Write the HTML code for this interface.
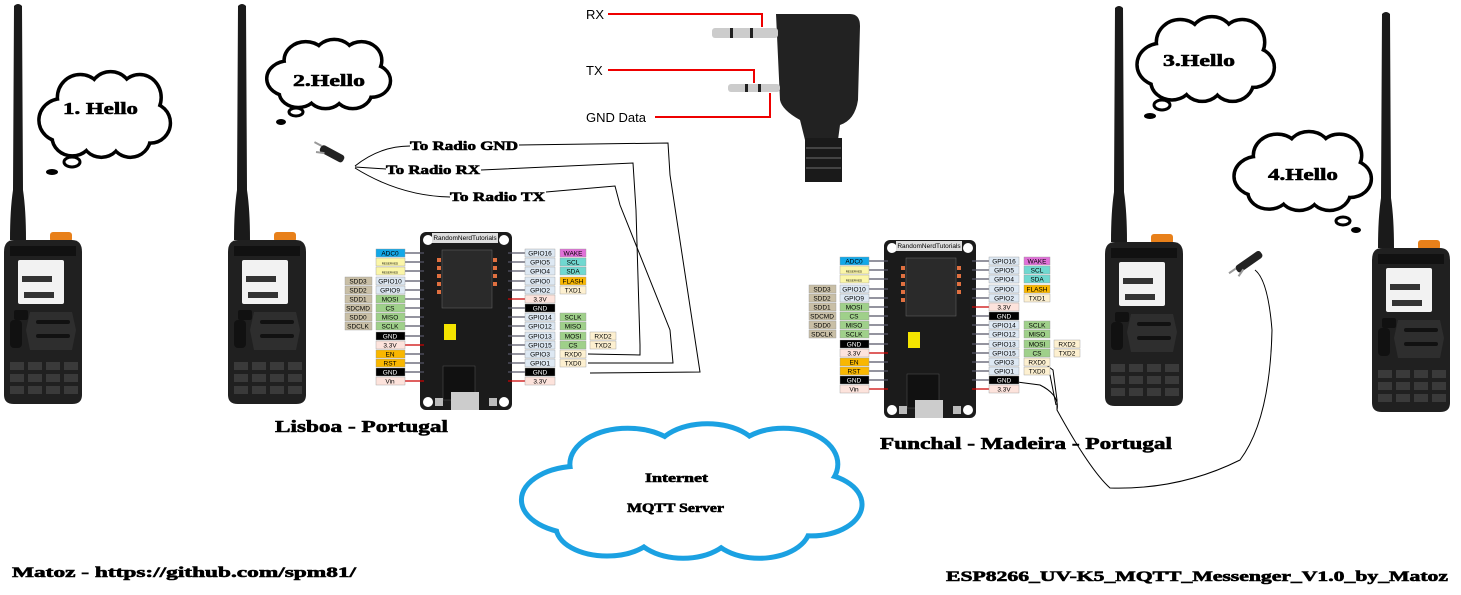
<!DOCTYPE html>
<html><head><meta charset="utf-8"><style>
html,body{margin:0;padding:0;background:#fff;width:1461px;height:595px;overflow:hidden}
svg{display:block}
.t{font-family:"Liberation Serif",serif;font-weight:bold;fill:#000;stroke:#000;stroke-width:0.6}
.p{font-family:"Liberation Sans",sans-serif;font-size:6.5px;text-anchor:middle}
</style></head><body>
<svg width="1461" height="595" viewBox="0 0 1461 595" xmlns="http://www.w3.org/2000/svg">
<defs>
<symbol id="radio" viewBox="0 0 90 410" width="90" height="410" overflow="visible">
  <path d="M12,6 Q16,2 20,6 L21,190 Q24,210 24,240 L8,240 Q8,210 11,190 Z" fill="#1a1a1a"/>
  <rect x="48" y="232" width="22" height="10" rx="3" fill="#e8801a"/>
  <path d="M2,252 Q2,240 12,240 L70,240 Q80,240 80,252 L80,395 Q80,404 70,404 L12,404 Q2,404 2,395 Z" fill="#202020"/>
  <rect x="8" y="246" width="66" height="10" fill="#111"/>
  <rect x="16" y="260" width="46" height="44" rx="2" fill="#f2f2f2"/>
  <rect x="20" y="276" width="30" height="6" fill="#333"/>
  <rect x="22" y="292" width="30" height="6" fill="#333"/>
  <rect x="12" y="310" width="14" height="10" rx="2" fill="#111"/>
  <path d="M28,312 L70,312 L74,330 L70,350 L28,350 L24,330 Z" fill="#2e2e2e"/>
  <rect x="34" y="320" width="34" height="4" rx="2" fill="#111"/>
  <rect x="34" y="334" width="34" height="4" rx="2" fill="#111"/>
  <rect x="8" y="320" width="12" height="28" rx="4" fill="#111"/>
  <g fill="#3a3a3a"><rect x="8" y="362" width="14" height="8"/><rect x="26" y="362" width="14" height="8"/><rect x="44" y="362" width="14" height="8"/><rect x="62" y="362" width="14" height="8"/>
  <rect x="8" y="374" width="14" height="8"/><rect x="26" y="374" width="14" height="8"/><rect x="44" y="374" width="14" height="8"/><rect x="62" y="374" width="14" height="8"/>
  <rect x="8" y="386" width="14" height="8"/><rect x="26" y="386" width="14" height="8"/><rect x="44" y="386" width="14" height="8"/><rect x="62" y="386" width="14" height="8"/></g>
</symbol>
<symbol id="cloud" viewBox="0 0 100 60" preserveAspectRatio="none" overflow="visible">
  <g fill="currentColor" stroke="currentColor">
    <ellipse cx="18" cy="34" rx="16" ry="14" vector-effect="non-scaling-stroke"/><ellipse cx="32" cy="18" rx="16" ry="15" vector-effect="non-scaling-stroke"/><ellipse cx="55" cy="15" rx="15" ry="14" vector-effect="non-scaling-stroke"/><ellipse cx="77" cy="18" rx="15" ry="15" vector-effect="non-scaling-stroke"/><ellipse cx="85" cy="36" rx="14" ry="13" vector-effect="non-scaling-stroke"/><ellipse cx="70" cy="46" rx="14" ry="13" vector-effect="non-scaling-stroke"/><ellipse cx="48" cy="46" rx="14" ry="13" vector-effect="non-scaling-stroke"/><ellipse cx="26" cy="46" rx="14" ry="12" vector-effect="non-scaling-stroke"/>
  </g>
  <g fill="#fff" stroke="none">
    <ellipse cx="18" cy="34" rx="16" ry="14"/><ellipse cx="32" cy="18" rx="16" ry="15"/><ellipse cx="55" cy="15" rx="15" ry="14"/><ellipse cx="77" cy="18" rx="15" ry="15"/><ellipse cx="85" cy="36" rx="14" ry="13"/><ellipse cx="70" cy="46" rx="14" ry="13"/><ellipse cx="48" cy="46" rx="14" ry="13"/><ellipse cx="26" cy="46" rx="14" ry="12"/><ellipse cx="50" cy="30" rx="30" ry="18"/>
  </g>
</symbol>
</defs>

<use href="#radio" x="2" y="0"/>
<use href="#radio" x="226" y="0"/>
<use href="#radio" x="1103" y="2"/>
<use href="#radio" x="1370" y="8"/>

<use href="#cloud" x="38" y="72" width="132" height="85" style="color:#000" stroke-width="7"/>
<ellipse cx="72" cy="162" rx="8" ry="5" fill="#fff" stroke="#000" stroke-width="3"/>
<ellipse cx="52" cy="172" rx="6" ry="3" fill="#000"/>
<text class="t" x="63" y="114" font-size="17" textLength="75" lengthAdjust="spacingAndGlyphs">1. Hello</text>

<use href="#cloud" x="266" y="40" width="124" height="68" style="color:#000" stroke-width="7"/>
<ellipse cx="296" cy="112" rx="7" ry="4" fill="#fff" stroke="#000" stroke-width="3"/>
<ellipse cx="281" cy="122" rx="5" ry="3" fill="#000"/>
<text class="t" x="293" y="86" font-size="17" textLength="72" lengthAdjust="spacingAndGlyphs">2.Hello</text>

<use href="#cloud" x="1136" y="17" width="138" height="84" style="color:#000" stroke-width="7"/>
<ellipse cx="1162" cy="105" rx="8" ry="5" fill="#fff" stroke="#000" stroke-width="3"/>
<ellipse cx="1150" cy="116" rx="6" ry="3" fill="#000"/>
<text class="t" x="1163" y="66" font-size="17" textLength="72" lengthAdjust="spacingAndGlyphs">3.Hello</text>

<use href="#cloud" x="1233" y="132" width="138" height="78" style="color:#000" stroke-width="7"/>
<ellipse cx="1343" cy="221" rx="7" ry="4" fill="#fff" stroke="#000" stroke-width="3"/>
<ellipse cx="1356" cy="230" rx="5" ry="3" fill="#000"/>
<text class="t" x="1268" y="180" font-size="17" textLength="70" lengthAdjust="spacingAndGlyphs">4.Hello</text>

<use href="#cloud" x="517" y="424" width="346" height="134" style="color:#1ba1e2" stroke-width="10"/>
<text class="t" x="645" y="482" font-size="13" textLength="63" lengthAdjust="spacingAndGlyphs">Internet</text>
<text class="t" x="627" y="512" font-size="13" textLength="97" lengthAdjust="spacingAndGlyphs">MQTT Server</text>

<g>
  <path d="M776,14 L850,14 Q860,14 860,26 L858,100 Q855,120 840,125 L838,140 L805,140 L800,120 Q782,110 780,100 Z" fill="#222"/>
  <rect x="805" y="138" width="37" height="44" fill="#1a1a1a"/>
  <g stroke="#444" stroke-width="2"><line x1="806" y1="148" x2="841" y2="148"/><line x1="806" y1="158" x2="841" y2="158"/><line x1="806" y1="168" x2="841" y2="168"/></g>
  <rect x="712" y="28" width="66" height="10" rx="3" fill="#ccc"/>
  <rect x="730" y="28" width="3" height="10" fill="#222"/><rect x="750" y="28" width="3" height="10" fill="#222"/>
  <rect x="728" y="84" width="52" height="8" rx="3" fill="#ccc"/>
  <rect x="745" y="84" width="3" height="8" fill="#222"/><rect x="758" y="84" width="3" height="8" fill="#222"/>
  <polyline points="608,14 762,14 762,27" fill="none" stroke="#e00" stroke-width="2"/>
  <polyline points="608,70 754,70 754,83" fill="none" stroke="#e00" stroke-width="2"/>
  <polyline points="655,117 770,117 770,93" fill="none" stroke="#e00" stroke-width="2"/>
  <text x="586" y="19" font-family="Liberation Sans,sans-serif" font-size="13">RX</text>
  <text x="586" y="75" font-family="Liberation Sans,sans-serif" font-size="13">TX</text>
  <text x="586" y="122" font-family="Liberation Sans,sans-serif" font-size="13">GND Data</text>
</g>

<g transform="translate(340,158) rotate(28)"><rect x="-22" y="-4" width="26" height="8" rx="3" fill="#222"/><line x1="-22" y1="-2" x2="-30" y2="-2" stroke="#999" stroke-width="2"/><line x1="-16" y1="3" x2="-24" y2="6" stroke="#999" stroke-width="2"/></g>
<g transform="translate(1240,268) rotate(-35)"><rect x="-4" y="-4" width="30" height="8" rx="3" fill="#222"/><line x1="-4" y1="-2" x2="-12" y2="-2" stroke="#999" stroke-width="2"/><line x1="2" y1="3" x2="-6" y2="6" stroke="#999" stroke-width="2"/></g>

<g fill="none" stroke="#000" stroke-width="1">
  <path d="M355,166 Q380,146 410,146"/>
  <path d="M355,167 L386,169"/>
  <path d="M355,168 Q400,196 450,197"/>
  <path d="M519,145 L668,143 L670,175 L700,372 L590,373"/>
  <path d="M481,170 L633,163 L636,210 L640,345 L640,355 L588,354"/>
  <path d="M546,192 L615,186 L620,205 L670,330 L673,363 L588,363"/>
</g>
<text class="t" x="410" y="150" font-size="13" textLength="108" lengthAdjust="spacingAndGlyphs">To Radio  GND</text>
<text class="t" x="386" y="174" font-size="13" textLength="94" lengthAdjust="spacingAndGlyphs">To Radio RX</text>
<text class="t" x="450" y="201" font-size="13" textLength="95" lengthAdjust="spacingAndGlyphs">To Radio TX</text>

<g fill="none" stroke="#000" stroke-width="1">
  <path d="M1017,382 L1040,385 Q1060,395 1057,410 Q1090,470 1110,488 Q1180,490 1240,460 Q1270,420 1272,330 Q1268,280 1255,270"/>
  <path d="M1045,364 L1053,370 L1057,400 L1057,410"/>
  <path d="M1045,372 L1050,375 L1056,405"/>
</g>

<g id="b1">
  <rect x="420" y="232" width="92" height="178" rx="6" fill="#1b1b1b"/>
  <circle cx="428" cy="240" r="5" fill="#fff"/><circle cx="504" cy="240" r="5" fill="#fff"/>
  <circle cx="428" cy="402" r="5" fill="#fff"/><circle cx="504" cy="402" r="5" fill="#fff"/>
  <rect x="432" y="233" width="66" height="10" fill="#ddd"/>
  <text class="p" x="465" y="240">RandomNerdTutorials</text>
  <rect x="442" y="250" width="50" height="58" fill="#2a2a2a" stroke="#666" stroke-width="0.5"/>
  <g fill="#e07040"><rect x="437" y="258" width="4" height="4"/><rect x="437" y="266" width="4" height="4"/><rect x="437" y="274" width="4" height="4"/><rect x="437" y="282" width="4" height="4"/><rect x="437" y="290" width="4" height="4"/><rect x="493" y="258" width="4" height="4"/><rect x="493" y="266" width="4" height="4"/><rect x="493" y="274" width="4" height="4"/><rect x="493" y="282" width="4" height="4"/></g>
  <rect x="444" y="324" width="12" height="16" fill="#f5e400"/>
  <rect x="443" y="366" width="32" height="34" fill="#111" stroke="#555" stroke-width="0.5"/>
  <rect x="451" y="392" width="28" height="18" fill="#ccc"/>
  <rect x="435" y="398" width="8" height="8" fill="#bbb"/><rect x="489" y="398" width="8" height="8" fill="#bbb"/>
  <g stroke="#556" stroke-width="1.2">
    <line x1="405" y1="253" x2="424" y2="253"/><line x1="405" y1="262" x2="424" y2="262"/><line x1="405" y1="271" x2="424" y2="271"/><line x1="405" y1="281" x2="424" y2="281"/><line x1="405" y1="290" x2="424" y2="290"/><line x1="405" y1="299" x2="424" y2="299"/><line x1="405" y1="308" x2="424" y2="308"/><line x1="405" y1="317" x2="424" y2="317"/><line x1="405" y1="326" x2="424" y2="326"/><line x1="405" y1="336" x2="424" y2="336"/><line x1="405" y1="354" x2="424" y2="354"/><line x1="405" y1="363" x2="424" y2="363"/><line x1="405" y1="372" x2="424" y2="372"/>
    <line x1="508" y1="253" x2="525" y2="253"/><line x1="508" y1="262" x2="525" y2="262"/><line x1="508" y1="271" x2="525" y2="271"/><line x1="508" y1="281" x2="525" y2="281"/><line x1="508" y1="290" x2="525" y2="290"/><line x1="508" y1="308" x2="525" y2="308"/><line x1="508" y1="317" x2="525" y2="317"/><line x1="508" y1="326" x2="525" y2="326"/><line x1="508" y1="336" x2="525" y2="336"/><line x1="508" y1="345" x2="525" y2="345"/><line x1="508" y1="354" x2="525" y2="354"/><line x1="508" y1="363" x2="525" y2="363"/><line x1="508" y1="372" x2="525" y2="372"/>
  </g>
  <g stroke="#c00" stroke-width="1.2"><line x1="405" y1="345" x2="424" y2="345"/><line x1="405" y1="381" x2="424" y2="381"/><line x1="508" y1="299" x2="525" y2="299"/><line x1="508" y1="381" x2="525" y2="381"/></g>
  <g stroke="#999" stroke-width="0.4">
  <rect x="376" y="249" width="29" height="8" fill="#12a8e8"/>
  <rect x="376" y="258" width="29" height="8" fill="#fbf6a8"/>
  <rect x="376" y="267" width="29" height="8" fill="#fbf6a8"/>
  <rect x="345" y="277" width="27" height="8" fill="#c9bfa6"/><rect x="376" y="277" width="29" height="8" fill="#dde8f3"/>
  <rect x="345" y="286" width="27" height="8" fill="#c9bfa6"/><rect x="376" y="286" width="29" height="8" fill="#dde8f3"/>
  <rect x="345" y="295" width="27" height="8" fill="#c9bfa6"/><rect x="376" y="295" width="29" height="8" fill="#9fd08a"/>
  <rect x="345" y="304" width="27" height="8" fill="#c9bfa6"/><rect x="376" y="304" width="29" height="8" fill="#9fd08a"/>
  <rect x="345" y="313" width="27" height="8" fill="#c9bfa6"/><rect x="376" y="313" width="29" height="8" fill="#9fd08a"/>
  <rect x="345" y="322" width="27" height="8" fill="#c9bfa6"/><rect x="376" y="322" width="29" height="8" fill="#9fd08a"/>
  <rect x="376" y="332" width="29" height="8" fill="#000"/>
  <rect x="376" y="341" width="29" height="8" fill="#fde3dc"/>
  <rect x="376" y="350" width="29" height="8" fill="#f9b700"/>
  <rect x="376" y="359" width="29" height="8" fill="#f9b700"/>
  <rect x="376" y="368" width="29" height="8" fill="#000"/>
  <rect x="376" y="377" width="29" height="8" fill="#fde3dc"/>
  <rect x="525" y="249" width="30" height="8" fill="#dde8f3"/><rect x="560" y="249" width="26" height="8" fill="#e070d8"/>
  <rect x="525" y="258" width="30" height="8" fill="#dde8f3"/><rect x="560" y="258" width="26" height="8" fill="#70d8d0"/>
  <rect x="525" y="267" width="30" height="8" fill="#dde8f3"/><rect x="560" y="267" width="26" height="8" fill="#70d8d0"/>
  <rect x="525" y="277" width="30" height="8" fill="#dde8f3"/><rect x="560" y="277" width="26" height="8" fill="#f9b700"/>
  <rect x="525" y="286" width="30" height="8" fill="#dde8f3"/><rect x="560" y="286" width="26" height="8" fill="#fdf0d0"/>
  <rect x="525" y="295" width="30" height="8" fill="#fde3dc"/>
  <rect x="525" y="304" width="30" height="8" fill="#000"/>
  <rect x="525" y="313" width="30" height="8" fill="#dde8f3"/><rect x="560" y="313" width="26" height="8" fill="#9fd08a"/>
  <rect x="525" y="322" width="30" height="8" fill="#dde8f3"/><rect x="560" y="322" width="26" height="8" fill="#9fd08a"/>
  <rect x="525" y="332" width="30" height="8" fill="#dde8f3"/><rect x="560" y="332" width="26" height="8" fill="#9fd08a"/><rect x="590" y="332" width="26" height="8" fill="#fdf0d0"/>
  <rect x="525" y="341" width="30" height="8" fill="#dde8f3"/><rect x="560" y="341" width="26" height="8" fill="#9fd08a"/><rect x="590" y="341" width="26" height="8" fill="#fdf0d0"/>
  <rect x="525" y="350" width="30" height="8" fill="#dde8f3"/><rect x="560" y="350" width="26" height="8" fill="#fdf0d0"/>
  <rect x="525" y="359" width="30" height="8" fill="#dde8f3"/><rect x="560" y="359" width="26" height="8" fill="#fdf0d0"/>
  <rect x="525" y="368" width="30" height="8" fill="#000"/>
  <rect x="525" y="377" width="30" height="8" fill="#fde3dc"/>
  </g>
  <g class="p">
  <text x="390" y="255.5">ADC0</text><text x="390" y="264.5" font-size="3">RESERVED</text><text x="390" y="273.5" font-size="3">RESERVED</text>
  <text x="358" y="283.5">SDD3</text><text x="390" y="283.5">GPIO10</text>
  <text x="358" y="292.5">SDD2</text><text x="390" y="292.5">GPIO9</text>
  <text x="358" y="301.5">SDD1</text><text x="390" y="301.5">MOSI</text>
  <text x="358" y="310.5">SDCMD</text><text x="390" y="310.5">CS</text>
  <text x="358" y="319.5">SDD0</text><text x="390" y="319.5">MISO</text>
  <text x="358" y="328.5">SDCLK</text><text x="390" y="328.5">SCLK</text>
  <text x="390" y="338.5" fill="#fff">GND</text><text x="390" y="347.5">3.3V</text><text x="390" y="356.5">EN</text><text x="390" y="365.5">RST</text><text x="390" y="374.5" fill="#fff">GND</text><text x="390" y="383.5">Vin</text>
  <text x="540" y="255.5">GPIO16</text><text x="573" y="255.5">WAKE</text>
  <text x="540" y="264.5">GPIO5</text><text x="573" y="264.5">SCL</text>
  <text x="540" y="273.5">GPIO4</text><text x="573" y="273.5">SDA</text>
  <text x="540" y="283.5">GPIO0</text><text x="573" y="283.5">FLASH</text>
  <text x="540" y="292.5">GPIO2</text><text x="573" y="292.5">TXD1</text>
  <text x="540" y="301.5">3.3V</text><text x="540" y="310.5" fill="#fff">GND</text>
  <text x="540" y="319.5">GPIO14</text><text x="573" y="319.5">SCLK</text>
  <text x="540" y="328.5">GPIO12</text><text x="573" y="328.5">MISO</text>
  <text x="540" y="338.5">GPIO13</text><text x="573" y="338.5">MOSI</text><text x="603" y="338.5">RXD2</text>
  <text x="540" y="347.5">GPIO15</text><text x="573" y="347.5">CS</text><text x="603" y="347.5">TXD2</text>
  <text x="540" y="356.5">GPIO3</text><text x="573" y="356.5">RXD0</text>
  <text x="540" y="365.5">GPIO1</text><text x="573" y="365.5">TXD0</text>
  <text x="540" y="374.5" fill="#fff">GND</text><text x="540" y="383.5">3.3V</text>
  </g>
</g>

<g transform="translate(464,8)">
  <rect x="420" y="232" width="92" height="178" rx="6" fill="#1b1b1b"/>
  <circle cx="428" cy="240" r="5" fill="#fff"/><circle cx="504" cy="240" r="5" fill="#fff"/>
  <circle cx="428" cy="402" r="5" fill="#fff"/><circle cx="504" cy="402" r="5" fill="#fff"/>
  <rect x="432" y="233" width="66" height="10" fill="#ddd"/>
  <text class="p" x="465" y="240">RandomNerdTutorials</text>
  <rect x="442" y="250" width="50" height="58" fill="#2a2a2a" stroke="#666" stroke-width="0.5"/>
  <g fill="#e07040"><rect x="437" y="258" width="4" height="4"/><rect x="437" y="266" width="4" height="4"/><rect x="437" y="274" width="4" height="4"/><rect x="437" y="282" width="4" height="4"/><rect x="437" y="290" width="4" height="4"/><rect x="493" y="258" width="4" height="4"/><rect x="493" y="266" width="4" height="4"/><rect x="493" y="274" width="4" height="4"/><rect x="493" y="282" width="4" height="4"/></g>
  <rect x="444" y="324" width="12" height="16" fill="#f5e400"/>
  <rect x="443" y="366" width="32" height="34" fill="#111" stroke="#555" stroke-width="0.5"/>
  <rect x="451" y="392" width="28" height="18" fill="#ccc"/>
  <rect x="435" y="398" width="8" height="8" fill="#bbb"/><rect x="489" y="398" width="8" height="8" fill="#bbb"/>
  <g stroke="#556" stroke-width="1.2">
    <line x1="405" y1="253" x2="424" y2="253"/><line x1="405" y1="262" x2="424" y2="262"/><line x1="405" y1="271" x2="424" y2="271"/><line x1="405" y1="281" x2="424" y2="281"/><line x1="405" y1="290" x2="424" y2="290"/><line x1="405" y1="299" x2="424" y2="299"/><line x1="405" y1="308" x2="424" y2="308"/><line x1="405" y1="317" x2="424" y2="317"/><line x1="405" y1="326" x2="424" y2="326"/><line x1="405" y1="336" x2="424" y2="336"/><line x1="405" y1="354" x2="424" y2="354"/><line x1="405" y1="363" x2="424" y2="363"/><line x1="405" y1="372" x2="424" y2="372"/>
    <line x1="508" y1="253" x2="525" y2="253"/><line x1="508" y1="262" x2="525" y2="262"/><line x1="508" y1="271" x2="525" y2="271"/><line x1="508" y1="281" x2="525" y2="281"/><line x1="508" y1="290" x2="525" y2="290"/><line x1="508" y1="308" x2="525" y2="308"/><line x1="508" y1="317" x2="525" y2="317"/><line x1="508" y1="326" x2="525" y2="326"/><line x1="508" y1="336" x2="525" y2="336"/><line x1="508" y1="345" x2="525" y2="345"/><line x1="508" y1="354" x2="525" y2="354"/><line x1="508" y1="363" x2="525" y2="363"/><line x1="508" y1="372" x2="525" y2="372"/>
  </g>
  <g stroke="#c00" stroke-width="1.2"><line x1="405" y1="345" x2="424" y2="345"/><line x1="405" y1="381" x2="424" y2="381"/><line x1="508" y1="299" x2="525" y2="299"/><line x1="508" y1="381" x2="525" y2="381"/></g>
  <g stroke="#999" stroke-width="0.4">
  <rect x="376" y="249" width="29" height="8" fill="#12a8e8"/>
  <rect x="376" y="258" width="29" height="8" fill="#fbf6a8"/>
  <rect x="376" y="267" width="29" height="8" fill="#fbf6a8"/>
  <rect x="345" y="277" width="27" height="8" fill="#c9bfa6"/><rect x="376" y="277" width="29" height="8" fill="#dde8f3"/>
  <rect x="345" y="286" width="27" height="8" fill="#c9bfa6"/><rect x="376" y="286" width="29" height="8" fill="#dde8f3"/>
  <rect x="345" y="295" width="27" height="8" fill="#c9bfa6"/><rect x="376" y="295" width="29" height="8" fill="#9fd08a"/>
  <rect x="345" y="304" width="27" height="8" fill="#c9bfa6"/><rect x="376" y="304" width="29" height="8" fill="#9fd08a"/>
  <rect x="345" y="313" width="27" height="8" fill="#c9bfa6"/><rect x="376" y="313" width="29" height="8" fill="#9fd08a"/>
  <rect x="345" y="322" width="27" height="8" fill="#c9bfa6"/><rect x="376" y="322" width="29" height="8" fill="#9fd08a"/>
  <rect x="376" y="332" width="29" height="8" fill="#000"/>
  <rect x="376" y="341" width="29" height="8" fill="#fde3dc"/>
  <rect x="376" y="350" width="29" height="8" fill="#f9b700"/>
  <rect x="376" y="359" width="29" height="8" fill="#f9b700"/>
  <rect x="376" y="368" width="29" height="8" fill="#000"/>
  <rect x="376" y="377" width="29" height="8" fill="#fde3dc"/>
  <rect x="525" y="249" width="30" height="8" fill="#dde8f3"/><rect x="560" y="249" width="26" height="8" fill="#e070d8"/>
  <rect x="525" y="258" width="30" height="8" fill="#dde8f3"/><rect x="560" y="258" width="26" height="8" fill="#70d8d0"/>
  <rect x="525" y="267" width="30" height="8" fill="#dde8f3"/><rect x="560" y="267" width="26" height="8" fill="#70d8d0"/>
  <rect x="525" y="277" width="30" height="8" fill="#dde8f3"/><rect x="560" y="277" width="26" height="8" fill="#f9b700"/>
  <rect x="525" y="286" width="30" height="8" fill="#dde8f3"/><rect x="560" y="286" width="26" height="8" fill="#fdf0d0"/>
  <rect x="525" y="295" width="30" height="8" fill="#fde3dc"/>
  <rect x="525" y="304" width="30" height="8" fill="#000"/>
  <rect x="525" y="313" width="30" height="8" fill="#dde8f3"/><rect x="560" y="313" width="26" height="8" fill="#9fd08a"/>
  <rect x="525" y="322" width="30" height="8" fill="#dde8f3"/><rect x="560" y="322" width="26" height="8" fill="#9fd08a"/>
  <rect x="525" y="332" width="30" height="8" fill="#dde8f3"/><rect x="560" y="332" width="26" height="8" fill="#9fd08a"/><rect x="590" y="332" width="26" height="8" fill="#fdf0d0"/>
  <rect x="525" y="341" width="30" height="8" fill="#dde8f3"/><rect x="560" y="341" width="26" height="8" fill="#9fd08a"/><rect x="590" y="341" width="26" height="8" fill="#fdf0d0"/>
  <rect x="525" y="350" width="30" height="8" fill="#dde8f3"/><rect x="560" y="350" width="26" height="8" fill="#fdf0d0"/>
  <rect x="525" y="359" width="30" height="8" fill="#dde8f3"/><rect x="560" y="359" width="26" height="8" fill="#fdf0d0"/>
  <rect x="525" y="368" width="30" height="8" fill="#000"/>
  <rect x="525" y="377" width="30" height="8" fill="#fde3dc"/>
  </g>
  <g class="p">
  <text x="390" y="255.5">ADC0</text><text x="390" y="264.5" font-size="3">RESERVED</text><text x="390" y="273.5" font-size="3">RESERVED</text>
  <text x="358" y="283.5">SDD3</text><text x="390" y="283.5">GPIO10</text>
  <text x="358" y="292.5">SDD2</text><text x="390" y="292.5">GPIO9</text>
  <text x="358" y="301.5">SDD1</text><text x="390" y="301.5">MOSI</text>
  <text x="358" y="310.5">SDCMD</text><text x="390" y="310.5">CS</text>
  <text x="358" y="319.5">SDD0</text><text x="390" y="319.5">MISO</text>
  <text x="358" y="328.5">SDCLK</text><text x="390" y="328.5">SCLK</text>
  <text x="390" y="338.5" fill="#fff">GND</text><text x="390" y="347.5">3.3V</text><text x="390" y="356.5">EN</text><text x="390" y="365.5">RST</text><text x="390" y="374.5" fill="#fff">GND</text><text x="390" y="383.5">Vin</text>
  <text x="540" y="255.5">GPIO16</text><text x="573" y="255.5">WAKE</text>
  <text x="540" y="264.5">GPIO5</text><text x="573" y="264.5">SCL</text>
  <text x="540" y="273.5">GPIO4</text><text x="573" y="273.5">SDA</text>
  <text x="540" y="283.5">GPIO0</text><text x="573" y="283.5">FLASH</text>
  <text x="540" y="292.5">GPIO2</text><text x="573" y="292.5">TXD1</text>
  <text x="540" y="301.5">3.3V</text><text x="540" y="310.5" fill="#fff">GND</text>
  <text x="540" y="319.5">GPIO14</text><text x="573" y="319.5">SCLK</text>
  <text x="540" y="328.5">GPIO12</text><text x="573" y="328.5">MISO</text>
  <text x="540" y="338.5">GPIO13</text><text x="573" y="338.5">MOSI</text><text x="603" y="338.5">RXD2</text>
  <text x="540" y="347.5">GPIO15</text><text x="573" y="347.5">CS</text><text x="603" y="347.5">TXD2</text>
  <text x="540" y="356.5">GPIO3</text><text x="573" y="356.5">RXD0</text>
  <text x="540" y="365.5">GPIO1</text><text x="573" y="365.5">TXD0</text>
  <text x="540" y="374.5" fill="#fff">GND</text><text x="540" y="383.5">3.3V</text>
  </g>
</g>

<text class="t" x="275" y="432" font-size="17" textLength="173" lengthAdjust="spacingAndGlyphs">Lisboa - Portugal</text>
<text class="t" x="880" y="449" font-size="17" textLength="292" lengthAdjust="spacingAndGlyphs">Funchal - Madeira - Portugal</text>
<text class="t" x="12" y="577" font-size="15" textLength="344" lengthAdjust="spacingAndGlyphs">Matoz - https://github.com/spm81/</text>
<text class="t" x="946" y="581" font-size="15" textLength="502" lengthAdjust="spacingAndGlyphs">ESP8266_UV-K5_MQTT_Messenger_V1.0_by_Matoz</text>
</svg>
</body></html>
